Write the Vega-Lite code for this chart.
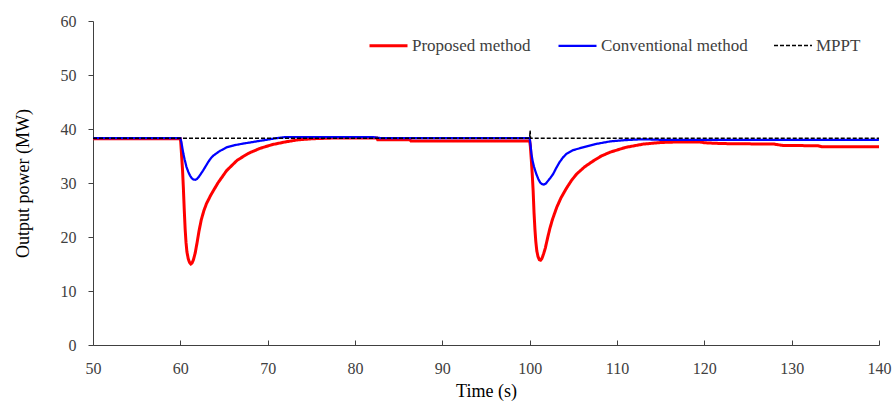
{
  "$schema": "https://vega.github.io/schema/vega-lite/v6.json",
  "width": 786,
  "height": 324,
  "autosize": {"type": "none"},
  "padding": {"left": 93, "top": 21, "right": 13, "bottom": 58},
  "background": "white",
  "config": {
    "view": {"stroke": null},
    "font": "Liberation Serif",
    "axis": {
      "grid": false,
      "domainColor": "#404040",
      "tickColor": "#404040",
      "labelColor": "#404040",
      "titleColor": "#000000",
      "labelFont": "Liberation Serif",
      "titleFont": "Liberation Serif",
      "labelFontSize": 16,
      "titleFontSize": 18,
      "titleFontWeight": "normal"
    }
  },
  "data": {
    "values": [
      {"t": 50, "v": 38.2, "s": "Proposed method"},
      {"t": 60, "v": 38.2, "s": "Proposed method"},
      {"t": 60.05, "v": 37.5, "s": "Proposed method"},
      {"t": 60.15, "v": 35.0, "s": "Proposed method"},
      {"t": 60.25, "v": 32.5, "s": "Proposed method"},
      {"t": 60.35, "v": 29.0, "s": "Proposed method"},
      {"t": 60.45, "v": 25.0, "s": "Proposed method"},
      {"t": 60.55, "v": 21.5, "s": "Proposed method"},
      {"t": 60.65, "v": 19.0, "s": "Proposed method"},
      {"t": 60.75, "v": 17.3, "s": "Proposed method"},
      {"t": 60.9, "v": 16.0, "s": "Proposed method"},
      {"t": 61.05, "v": 15.3, "s": "Proposed method"},
      {"t": 61.2, "v": 15.0, "s": "Proposed method"},
      {"t": 61.35, "v": 15.2, "s": "Proposed method"},
      {"t": 61.5, "v": 15.8, "s": "Proposed method"},
      {"t": 61.7, "v": 17.0, "s": "Proposed method"},
      {"t": 61.9, "v": 18.8, "s": "Proposed method"},
      {"t": 62.15, "v": 21.2, "s": "Proposed method"},
      {"t": 62.4, "v": 23.2, "s": "Proposed method"},
      {"t": 62.7, "v": 24.9, "s": "Proposed method"},
      {"t": 63.0, "v": 26.2, "s": "Proposed method"},
      {"t": 63.5, "v": 27.8, "s": "Proposed method"},
      {"t": 64.3, "v": 30.0, "s": "Proposed method"},
      {"t": 65.3, "v": 32.3, "s": "Proposed method"},
      {"t": 66.5, "v": 34.2, "s": "Proposed method"},
      {"t": 67.8, "v": 35.5, "s": "Proposed method"},
      {"t": 69.1, "v": 36.4, "s": "Proposed method"},
      {"t": 70.5, "v": 37.1, "s": "Proposed method"},
      {"t": 72.0, "v": 37.6, "s": "Proposed method"},
      {"t": 73.5, "v": 38.0, "s": "Proposed method"},
      {"t": 75.2, "v": 38.2, "s": "Proposed method"},
      {"t": 78, "v": 38.35, "s": "Proposed method"},
      {"t": 82.5, "v": 38.35, "s": "Proposed method"},
      {"t": 82.6, "v": 38.0, "s": "Proposed method"},
      {"t": 86.3, "v": 38.0, "s": "Proposed method"},
      {"t": 86.4, "v": 37.8, "s": "Proposed method"},
      {"t": 100, "v": 37.8, "s": "Proposed method"},
      {"t": 100.08, "v": 36.8, "s": "Proposed method"},
      {"t": 100.18, "v": 34.5, "s": "Proposed method"},
      {"t": 100.3, "v": 31.5, "s": "Proposed method"},
      {"t": 100.4, "v": 28.5, "s": "Proposed method"},
      {"t": 100.5, "v": 24.5, "s": "Proposed method"},
      {"t": 100.6, "v": 21.5, "s": "Proposed method"},
      {"t": 100.7, "v": 19.2, "s": "Proposed method"},
      {"t": 100.82, "v": 17.4, "s": "Proposed method"},
      {"t": 100.95, "v": 16.4, "s": "Proposed method"},
      {"t": 101.1, "v": 15.8, "s": "Proposed method"},
      {"t": 101.25, "v": 15.7, "s": "Proposed method"},
      {"t": 101.4, "v": 16.0, "s": "Proposed method"},
      {"t": 101.6, "v": 16.9, "s": "Proposed method"},
      {"t": 101.8, "v": 18.0, "s": "Proposed method"},
      {"t": 102.05, "v": 19.8, "s": "Proposed method"},
      {"t": 102.3, "v": 21.5, "s": "Proposed method"},
      {"t": 102.6, "v": 23.2, "s": "Proposed method"},
      {"t": 103.1, "v": 25.5, "s": "Proposed method"},
      {"t": 103.6, "v": 27.3, "s": "Proposed method"},
      {"t": 104.2, "v": 29.0, "s": "Proposed method"},
      {"t": 104.8, "v": 30.5, "s": "Proposed method"},
      {"t": 105.4, "v": 31.7, "s": "Proposed method"},
      {"t": 106.3, "v": 33.0, "s": "Proposed method"},
      {"t": 107.2, "v": 34.0, "s": "Proposed method"},
      {"t": 108.2, "v": 35.0, "s": "Proposed method"},
      {"t": 109.2, "v": 35.7, "s": "Proposed method"},
      {"t": 111, "v": 36.6, "s": "Proposed method"},
      {"t": 113, "v": 37.2, "s": "Proposed method"},
      {"t": 115, "v": 37.5, "s": "Proposed method"},
      {"t": 117, "v": 37.6, "s": "Proposed method"},
      {"t": 119.5, "v": 37.6, "s": "Proposed method"},
      {"t": 120, "v": 37.45, "s": "Proposed method"},
      {"t": 122, "v": 37.3, "s": "Proposed method"},
      {"t": 128, "v": 37.2, "s": "Proposed method"},
      {"t": 129, "v": 36.95, "s": "Proposed method"},
      {"t": 133, "v": 36.9, "s": "Proposed method"},
      {"t": 133.5, "v": 36.7, "s": "Proposed method"},
      {"t": 140, "v": 36.7, "s": "Proposed method"},

      {"t": 50, "v": 38.3, "s": "Conventional method"},
      {"t": 60, "v": 38.3, "s": "Conventional method"},
      {"t": 60.1, "v": 37.7, "s": "Conventional method"},
      {"t": 60.2, "v": 36.8, "s": "Conventional method"},
      {"t": 60.35, "v": 35.4, "s": "Conventional method"},
      {"t": 60.5, "v": 34.3, "s": "Conventional method"},
      {"t": 60.7, "v": 33.0, "s": "Conventional method"},
      {"t": 60.9, "v": 32.1, "s": "Conventional method"},
      {"t": 61.1, "v": 31.4, "s": "Conventional method"},
      {"t": 61.3, "v": 30.9, "s": "Conventional method"},
      {"t": 61.5, "v": 30.65, "s": "Conventional method"},
      {"t": 61.7, "v": 30.6, "s": "Conventional method"},
      {"t": 61.9, "v": 30.75, "s": "Conventional method"},
      {"t": 62.1, "v": 31.1, "s": "Conventional method"},
      {"t": 62.35, "v": 31.7, "s": "Conventional method"},
      {"t": 62.6, "v": 32.3, "s": "Conventional method"},
      {"t": 62.9, "v": 33.1, "s": "Conventional method"},
      {"t": 63.2, "v": 33.9, "s": "Conventional method"},
      {"t": 63.5, "v": 34.6, "s": "Conventional method"},
      {"t": 63.8, "v": 35.1, "s": "Conventional method"},
      {"t": 64.5, "v": 35.9, "s": "Conventional method"},
      {"t": 65.3, "v": 36.6, "s": "Conventional method"},
      {"t": 66.2, "v": 37.0, "s": "Conventional method"},
      {"t": 67.2, "v": 37.3, "s": "Conventional method"},
      {"t": 69.1, "v": 37.8, "s": "Conventional method"},
      {"t": 71.0, "v": 38.3, "s": "Conventional method"},
      {"t": 72, "v": 38.5, "s": "Conventional method"},
      {"t": 82, "v": 38.5, "s": "Conventional method"},
      {"t": 83, "v": 38.3, "s": "Conventional method"},
      {"t": 100, "v": 38.3, "s": "Conventional method"},
      {"t": 100.1, "v": 37.0, "s": "Conventional method"},
      {"t": 100.2, "v": 35.4, "s": "Conventional method"},
      {"t": 100.35, "v": 34.0, "s": "Conventional method"},
      {"t": 100.5, "v": 33.0, "s": "Conventional method"},
      {"t": 100.65, "v": 32.2, "s": "Conventional method"},
      {"t": 100.8, "v": 31.5, "s": "Conventional method"},
      {"t": 101.0, "v": 30.7, "s": "Conventional method"},
      {"t": 101.2, "v": 30.1, "s": "Conventional method"},
      {"t": 101.4, "v": 29.8, "s": "Conventional method"},
      {"t": 101.6, "v": 29.7, "s": "Conventional method"},
      {"t": 101.85, "v": 29.9, "s": "Conventional method"},
      {"t": 102.1, "v": 30.4, "s": "Conventional method"},
      {"t": 102.4, "v": 31.0, "s": "Conventional method"},
      {"t": 102.7, "v": 31.7, "s": "Conventional method"},
      {"t": 103.05, "v": 32.8, "s": "Conventional method"},
      {"t": 103.4, "v": 33.8, "s": "Conventional method"},
      {"t": 103.8, "v": 34.7, "s": "Conventional method"},
      {"t": 104.2, "v": 35.4, "s": "Conventional method"},
      {"t": 105.0, "v": 36.1, "s": "Conventional method"},
      {"t": 106.1, "v": 36.6, "s": "Conventional method"},
      {"t": 107.5, "v": 37.2, "s": "Conventional method"},
      {"t": 109.2, "v": 37.7, "s": "Conventional method"},
      {"t": 111, "v": 37.95, "s": "Conventional method"},
      {"t": 113, "v": 38.1, "s": "Conventional method"},
      {"t": 115, "v": 38.0, "s": "Conventional method"},
      {"t": 140, "v": 38.0, "s": "Conventional method"},

      {"t": 50, "v": 38.3, "s": "MPPT"},
      {"t": 100, "v": 38.3, "s": "MPPT"},
      {"t": 100.05, "v": 39.7, "s": "MPPT"},
      {"t": 100.1, "v": 38.3, "s": "MPPT"},
      {"t": 140, "v": 38.3, "s": "MPPT"}
    ]
  },
  "mark": {"type": "line", "interpolate": "linear", "clip": true},
  "encoding": {
    "x": {
      "field": "t",
      "type": "quantitative",
      "scale": {"domain": [50, 140], "nice": false, "zero": false},
      "axis": {
        "title": "Time (s)",
        "values": [50, 60, 70, 80, 90, 100, 110, 120, 130, 140],
        "tickSize": -5,
        "labelPadding": 20,
        "titlePadding": 6,
        "labelFlush": false
      }
    },
    "y": {
      "field": "v",
      "type": "quantitative",
      "scale": {"domain": [0, 60], "nice": false},
      "axis": {
        "title": "Output power (MW)",
        "values": [0, 10, 20, 30, 40, 50, 60],
        "tickSize": 5,
        "labelPadding": 12,
        "titlePadding": 28
      }
    },
    "color": {
      "field": "s",
      "type": "nominal",
      "scale": {
        "domain": ["Proposed method", "Conventional method", "MPPT"],
        "range": ["#ff0000", "#0000ff", "#000000"]
      },
      "legend": {
        "title": null,
        "orient": "none",
        "direction": "horizontal",
        "legendX": 275,
        "legendY": 4,
        "symbolType": "stroke",
        "symbolSize": 1444,
        "labelFont": "Liberation Serif",
        "labelFontSize": 17,
        "labelColor": "#404040",
        "labelOffset": 3,
        "labelLimit": 300,
        "columnPadding": 23
      }
    },
    "strokeDash": {
      "field": "s",
      "type": "nominal",
      "scale": {
        "domain": ["Proposed method", "Conventional method", "MPPT"],
        "range": [[1, 0], [1, 0], [4, 2]]
      },
      "legend": null
    },
    "strokeWidth": {
      "field": "s",
      "type": "nominal",
      "scale": {
        "domain": ["Proposed method", "Conventional method", "MPPT"],
        "range": [3, 1.5, 1.5]
      },
      "legend": null
    }
  }
}
